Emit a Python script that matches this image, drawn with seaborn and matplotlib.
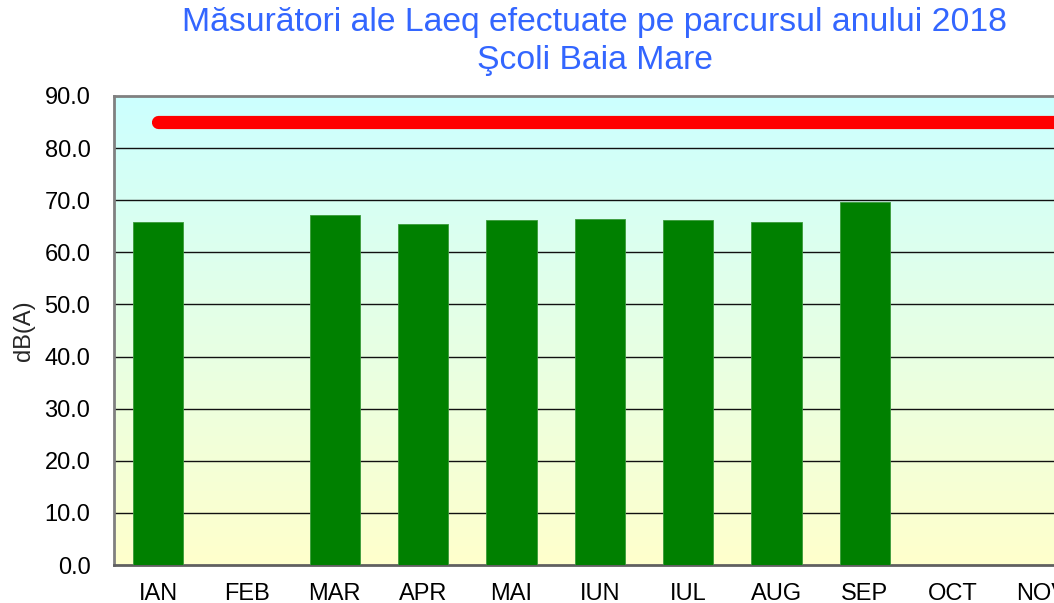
import numpy as np
import pandas as pd
import matplotlib
matplotlib.use("Agg")
import matplotlib.pyplot as plt
import seaborn as sns
from matplotlib.colors import LinearSegmentedColormap

months = ["IAN", "FEB", "MAR", "APR", "MAI", "IUN", "IUL", "AUG", "SEP", "OCT", "NOV", "DEC"]
laeq = [65.8, np.nan, 67.2, 65.4, 66.3, 66.4, 66.2, 65.8, 69.7, np.nan, np.nan, np.nan]
limit = [85.0] * 12
title_lines = ["Măsurători ale Laeq efectuate pe parcursul anului 2018", "Şcoli Baia Mare"]
ylabel = "dB(A)"
yticks = [0, 10, 20, 30, 40, 50, 60, 70, 80, 90]

sns.set_style("white")
plt.rcParams['font.family'] = ['Liberation Sans', 'DejaVu Sans']

W, H = 1054, 603
fig = plt.figure(figsize=(W / 100, H / 100), dpi=100)
# axes spans beyond the right edge of the figure (cropped look, as in the reference)
left, right, top, bottom = 114, 1174, 96, 565
ax = fig.add_axes([left / W, 1 - bottom / H, (right - left) / W, (bottom - top) / H])

df = pd.DataFrame({"month": months, "laeq": laeq})
x = np.arange(len(months))

# gradient background
grad = np.linspace(0, 1, 256).reshape(-1, 1)
cmap = LinearSegmentedColormap.from_list("bg", ["#FFFFCC", "#CCFFFF"])
ax.imshow(grad, aspect="auto", cmap=cmap, origin="lower",
          extent=[-0.5, len(months) - 0.5, 0, 90], zorder=0)

sns.barplot(data=df, x="month", y="laeq", color="#008000", saturation=1,
            width=0.57, ax=ax, zorder=3, edgecolor="#3a9a3a", linewidth=0.6)
sns.lineplot(x=x, y=limit, color="#FF0000", linewidth=9.5, ax=ax, zorder=4,
             solid_capstyle="round")

ax.set_xlim(-0.5, len(months) - 0.5)
ax.set_ylim(0, 90)
ax.set_yticks(yticks)
ax.set_yticklabels([f"{v:.1f}" for v in yticks])
ax.set_xticks(x)
ax.set_xticklabels(months)
for v in yticks[1:-1]:
    ax.axhline(v, color="#111111", linewidth=1.0, zorder=2)
ax.tick_params(axis="both", length=0, labelsize=17, colors="black")
ax.tick_params(axis="y", pad=17)
ax.tick_params(axis="x", pad=13)
ax.set_xlabel("")
ax.set_ylabel(ylabel, fontsize=17, labelpad=7)
for s in ["left", "top", "bottom", "right"]:
    ax.spines[s].set_color("#808080")
    ax.spines[s].set_linewidth(2)
ax.spines["bottom"].set_color("#606060")

fig.text(595 / W, 1 - 22 / H, title_lines[0], ha="center", va="center",
         fontsize=24.3, color="#3366FF")
fig.text(595 / W, 1 - 61 / H, title_lines[1], ha="center", va="center",
         fontsize=24.3, color="#3366FF")

fig.savefig("out.png", dpi=100)
